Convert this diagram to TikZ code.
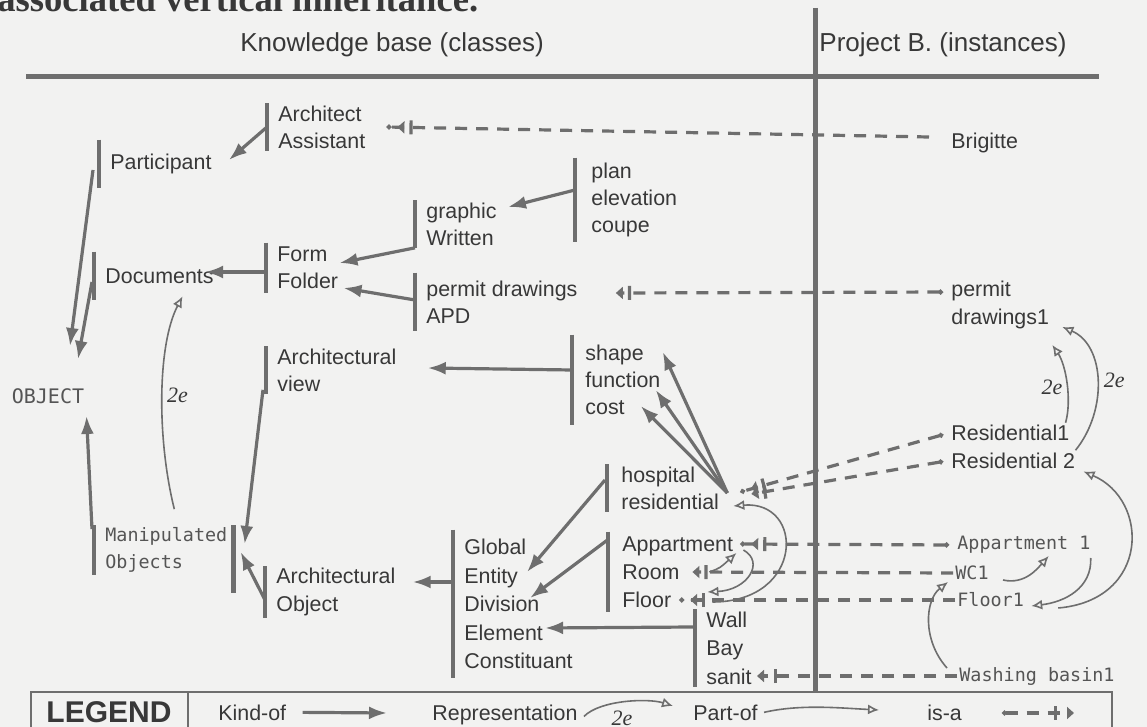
\documentclass[tikz,border=0pt]{standalone}
\usepackage{fontspec}
\setmainfont{Liberation Sans}
\newfontfamily\plotfont{DejaVu Sans Mono}
\newfontfamily\headfont{Liberation Serif}
\usetikzlibrary{arrows.meta,positioning}
\definecolor{paper}{HTML}{F2F2F1}
\definecolor{ink}{HTML}{383838}
\definecolor{lin}{HTML}{6E6E6E}
\definecolor{pale}{HTML}{555555}
\tikzset{
  >={Latex[length=9pt,width=6.5pt]},
  klasse/.style={
    anchor=west,
    align=left,
    inner xsep=5.5pt, inner ysep=1pt,
    text=ink,
    font=\fontsize{10.7}{13.6}\selectfont},
  inst/.style={
    anchor=west, align=left,
    inner sep=1pt, text=ink,
    font=\fontsize{10.7}{13.6}\selectfont},
  minst/.style={inst, text=pale,
    font=\plotfont\fontsize{9.2}{13.5}\selectfont},
  bar/.style={draw=lin, line width=2.2pt},
  kindof/.style={draw=lin, line width=1.6pt, ->},
  partof/.style={draw=lin, line width=0.8pt,
    -{Latex[open,length=5.5pt,width=5pt]}},
  repr/.style={partof},
  isa/.style={draw=lin, line width=1.6pt, dash pattern=on 6pt off 4.5pt,
    arrows={-{Bar[width=7pt,sep=2.5pt]Triangle[length=3.5pt,width=6pt]}}},
  isagap/.style={isa,
    arrows={-{Bar[width=7pt,sep=5pt]Triangle[length=3.5pt,width=6pt]}}},
  dotisagap/.style={isa,
    arrows={Circle[length=2.4pt,sep=4pt]-{Bar[width=7pt,sep=5pt]Triangle[length=3.5pt,width=6pt]}}},
  isadot/.style={isa,
    arrows={-{Bar[width=7pt,sep=2.5pt]Triangle[length=3.5pt,width=6pt,sep=3pt]Circle[length=2.4pt]}}},
  dotisa/.style={isa,
    arrows={Circle[length=2.4pt,sep=3pt]-{Bar[width=7pt,sep=2.5pt]Triangle[length=3.5pt,width=6pt]}}},
  dotisadot/.style={isa,
    arrows={Circle[length=2.4pt,sep=3pt]-{Bar[width=7pt,sep=2.5pt]Triangle[length=3.5pt,width=6pt,sep=3pt]Circle[length=2.4pt]}}},
  hand/.style={text=ink, inner sep=1pt,
    font=\headfont\itshape\fontsize{11}{11}\selectfont},
}

\begin{document}
\begin{tikzpicture}[x=0.5pt,y=-0.5pt]
  \useasboundingbox (0,0) rectangle (1147,727);
  \fill[paper] (0,0) rectangle (1147,727);
  % headings and the two axes
  \node[anchor=base west, inner sep=0, text=ink,
    font=\headfont\bfseries\fontsize{18.3}{20}\selectfont] (title) at (-3,12)
    {associated vertical inheritance.};
  \node[anchor=base, text=ink, font=\fontsize{13}{15}\selectfont] (kb) at (392,52)
    {Knowledge base (classes)};
  \node[anchor=base, text=ink, font=\fontsize{13}{15}\selectfont] (proj) at (943,52)
    {Project B. (instances)};
  \draw[lin, line width=2.5pt] (26,77) -- (1099,77);
  \draw[lin, line width=2.5pt] (815,8) -- (815,693);

  % classes
  \node[klasse] (arch) at (267,127) {Architect\\Assistant};
  \node[klasse, minimum height=24pt] (part) at (99,164) {Participant};
  \node[klasse] (graph) at (415,224) {graphic\\Written};
  \node[klasse, inner xsep=8pt, minimum height=42pt] (plan) at (575,200) {plan\\elevation\\coupe};
  \node[klasse, minimum height=25pt] (form) at (266,268) {Form\\Folder};
  \node[klasse, minimum height=24pt] (docs) at (94,276) {Documents};
  \node[klasse, minimum height=29pt] (permit) at (415,302) {permit drawings\\APD};
  \node[klasse] (aview) at (266,370) {Architectural\\view};
  \node[klasse, inner xsep=6.5pt, minimum height=45pt] (shape) at (572,380) {shape\\function\\cost};
  \node[text=pale, inner sep=2pt, font=\plotfont\fontsize{10}{12}\selectfont] (object) at (48,396) {OBJECT};
  \node[klasse, text=pale, font=\plotfont\fontsize{9.2}{13.5}\selectfont] (manip) at (94,550) {Manipulated\\Objects};
  \node[klasse] (aobj) at (265,592) {Architectural\\Object};
  \node[klasse, minimum height=74pt, font=\fontsize{10.7}{14.3}\selectfont] (glob) at (453,604)
    {Global\\Entity\\Division\\Element\\Constituant};
  \node[klasse, inner xsep=7pt] (hosp) at (607,488) {hospital\\residential};
  \node[klasse, inner xsep=7pt, minimum height=40pt, font=\fontsize{10.7}{14}\selectfont] (appt) at (608,572)
    {Appartment\\Room\\Floor};
  \node[klasse, font=\fontsize{10.7}{14.3}\selectfont] (wall) at (695,648) {Wall\\Bay\\sanit};
  \foreach \n in {arch,part,graph,plan,form,docs,permit,aview,shape,manip,aobj,glob,hosp,appt,wall}
    \draw[bar] (\n.north west) -- (\n.south west);
  \draw[bar] ([xshift=-2.5pt]manip.north east) -- ([xshift=-2.5pt,yshift=-9pt]manip.south east);

  % instances
  \node[inst] (brig) at (949,143) {Brigitte};
  \node[inst] (permit1) at (949,305) {permit\\drawings1};
  \node[inst] (res1) at (949,433) {Residential1};
  \node[inst, below=3.5pt of res1.south west, anchor=north west] (res2) {Residential 2};
  \node[minst] (appt1) at (955,545) {Appartment 1};
  \node[minst] (wc1) at (953,573) {WC1};
  \node[minst] (floor1) at (955,600) {Floor1};
  \node[minst] (basin1) at (957,676) {Washing basin1};

  % kind-of
  \draw[kindof] (arch.west) -- ([xshift=3pt,yshift=2pt]part.east);
  \draw[kindof] ([xshift=-3pt,yshift=-3pt]part.west) -- ([xshift=11pt,yshift=19pt]object.north);
  \draw[kindof] ([xshift=-1pt,yshift=-3pt]docs.west) -- ([xshift=15pt,yshift=12.5pt]object.north);
  \draw[kindof] ([xshift=-1pt,yshift=-2pt]manip.north west) -- ([xshift=-1pt,yshift=-4pt]object.south east);
  \draw[kindof] ([yshift=-2pt]form.west) -- ([xshift=-10pt,yshift=2pt]docs.east);
  \draw[kindof] (graph.south west) -- ([xshift=-5pt,yshift=2.5pt]form.east);
  \draw[kindof] ([yshift=1pt]permit.west) -- ([xshift=-3pt,yshift=-10pt]form.east);
  \draw[kindof] ([yshift=5pt]plan.west) -- ([yshift=8.5pt]graph.east);
  \draw[kindof] ([yshift=5pt]shape.west) -- ([xshift=10pt,yshift=1pt]aview.east);
  \draw[kindof] ([xshift=-1.5pt,yshift=2pt]aview.south west) -- ([xshift=3pt,yshift=3pt]manip.east);
  \draw[kindof] ([yshift=-4pt]aobj.west) -- ([xshift=1pt,yshift=-1pt]manip.east);
  \draw[kindof] ([yshift=11pt]glob.west) -- ([xshift=3pt,yshift=5pt]aobj.east);
  \draw[kindof] ([xshift=-1pt,yshift=4pt]hosp.west) -- ([xshift=-28.5pt,yshift=16pt]glob.east);
  \draw[kindof] ([yshift=-4pt]appt.north west) -- ([xshift=-27pt,yshift=3pt]glob.east);
  \draw[kindof] ([xshift=-1pt,yshift=10.5pt]wall.west) -- ([xshift=-19.5pt,yshift=-12pt]glob.east);
  \foreach \dx/\dy in {-5.5/14,-9/-5,-16.5/-13}
    \draw[kindof] ([xshift=-3pt,yshift=-2.5pt]hosp.east) -- ([xshift=\dx pt,yshift=\dy pt]shape.east);

  % is-a
  \draw[isadot] ([xshift=-10pt,yshift=3pt]brig.west) -- ([xshift=5pt]arch.east);
  \draw[dotisa] ([yshift=6.5pt]permit1.west) -- ([xshift=13.5pt,yshift=4.5pt]permit.east);
  \draw[dotisadot] (res1.west) -- ([xshift=3.5pt,yshift=-2pt]hosp.east);
  \draw[dotisa] (res2.west) -- ([xshift=9pt,yshift=-3pt]hosp.east);
  \draw[dotisadot] (appt1.west) -- ([xshift=-3.5pt,yshift=14pt]appt.east);
  \draw[isa] (wc1.west) -- ([xshift=-27.5pt]appt.east);
  \draw[isadot] (floor1.west) -- ([xshift=-34pt,yshift=-14pt]appt.east);
  \draw[isagap] (basin1.west) -- ([xshift=-3pt,yshift=-14pt]wall.east);

  % part-of
  \draw[partof] ([xshift=-17.5pt,yshift=-15pt]appt.east) .. controls (805,602) and (805,500) .. ([yshift=-9pt]hosp.east);
  \draw[partof] ([xshift=-2pt,yshift=11pt]appt.east) .. controls (765,562) and (748,590) .. ([xshift=-20pt,yshift=-10pt]appt.east);
  \draw[partof] ([xshift=-19pt]appt.east) .. controls (720,568) .. ([xshift=-5.5pt,yshift=9.5pt]appt.east);
  \draw[partof] ([xshift=6pt,yshift=-3.5pt]wc1.east) .. controls (1025,585) and (1038,568) .. ([xshift=-22pt,yshift=-5.5pt]appt1.east);
  \draw[partof] ([xshift=-1pt,yshift=-6.5pt]appt1.east) .. controls (1092,588) and (1065,602) .. ([xshift=2.5pt,yshift=-3pt]floor1.east);
  \draw[partof] ([xshift=-5pt,yshift=4pt]basin1.west) .. controls (922,640) and (925,600) .. ([xshift=-2.5pt,yshift=-4.5pt]wc1.west);
  \draw[partof] ([xshift=16pt,yshift=-4pt]floor1.east) .. controls (1150,600) and (1150,500) .. ([xshift=3pt,yshift=-5.5pt]res2.east);

  % representation
  \draw[repr] ([xshift=4pt,yshift=8pt]manip.north) .. controls (157,440) and (157,345) .. ([xshift=11.5pt,yshift=2pt]docs.south)
    node[hand, pos=0.5, right=1pt] {2e};
  \draw[repr] ([xshift=-3pt]res1.north east) .. controls (1072,400) and (1066,365) .. ([xshift=0.5pt,yshift=-7pt]permit1.south east)
    node[hand, pos=0.45, left=1pt] {2e};
  \draw[repr] ([xshift=-1pt]res2.north east) .. controls (1108,410) and (1105,345) .. ([xshift=5.5pt,yshift=2pt]permit1.south east)
    node[hand, pos=0.5, right=2pt] {2e};

  % legend
  \draw[lin, line width=1.2pt] (31,692) rectangle (1112,752);
  \draw[lin, line width=1.2pt] (188,692) -- (188,752);
  \node[text=ink, inner sep=1pt, font=\bfseries\fontsize{15}{17}\selectfont] (lgd) at (109,712) {LEGEND};
  \node[inst, anchor=base west] (lkind) at (216,720) {Kind-of};
  \node[inst, anchor=base west] (lrepr) at (430,720) {Representation};
  \node[inst, anchor=base west] (lpart) at (691,720) {Part-of};
  \node[inst, anchor=base west] (lisa) at (925,720) {is-a};
  \coordinate (kend) at (387,713);
  \coordinate (rend) at (673,706);
  \coordinate (pend) at (879,710);
  \coordinate (istart) at (994,713);
  \coordinate (iend) at (1074,713);
  \draw[kindof] ([xshift=7pt]lkind.east) -- (kend);
  \draw[repr] ([xshift=2pt,yshift=-1pt]lrepr.east) .. controls (600,700) and (648,698) .. (rend);
  \node[hand] (lhand) at (622,718) {2e};
  \draw[partof] ([xshift=2pt]lpart.east) .. controls (800,704) and (840,708) .. (pend);
  \draw[dotisagap] (istart) -- (iend);
\end{tikzpicture}
\end{document}
